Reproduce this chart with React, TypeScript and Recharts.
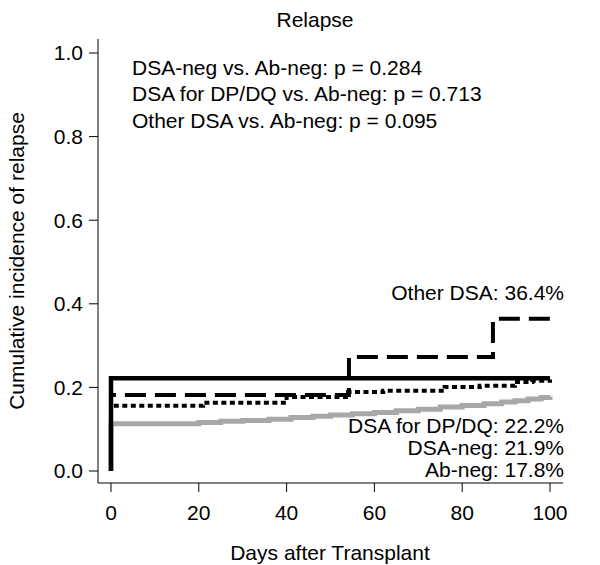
import React from "react";
import { LineChart, Line, XAxis, YAxis } from "recharts";

const xTicks = [0, 20, 40, 60, 80, 100];
const yTicks = [0, 0.2, 0.4, 0.6, 0.8, 1.0];

// Ab-neg (gray)
const abNegDays = [0, 0, 20, 25, 30, 36, 41, 46, 50, 55, 60, 65, 70, 75, 80, 85, 89, 92, 95, 98, 100];
const abNegVals = [0, 0.113, 0.116, 0.119, 0.121, 0.124, 0.128, 0.131, 0.134, 0.137, 0.14, 0.144, 0.148, 0.153, 0.157, 0.161, 0.165, 0.168, 0.172, 0.176, 0.178];

// DSA-neg (dotted)
const dsaNegDays = [0, 0, 21, 40, 54, 62, 76, 84, 92, 96, 100];
const dsaNegVals = [0, 0.156, 0.163, 0.177, 0.189, 0.192, 0.201, 0.204, 0.213, 0.216, 0.219];

// Other DSA (dashed)
const otherDays = [0, 0, 54.2, 87, 100];
const otherVals = [0, 0.182, 0.273, 0.364, 0.364];

// DSA for DP/DQ (solid)
const dpdqDays = [0, 0, 100];
const dpdqVals = [0, 0.222, 0.222];

const pTexts = [
  "DSA-neg vs. Ab-neg: p = 0.284",
  "DSA for DP/DQ vs. Ab-neg: p = 0.713",
  "Other DSA vs. Ab-neg: p = 0.095",
];
const endLabels = ["DSA for DP/DQ: 22.2%", "DSA-neg: 21.9%", "Ab-neg: 17.8%"];
const otherLabel = "Other DSA: 36.4%";

const toRows = (d: number[], v: number[]) => d.map((day, i) => ({ day, v: v[i] }));

const FONT = "'Liberation Sans', Arial, Helvetica, sans-serif";

export default function App() {
  return (
    <div style={{ position: "absolute", left: 0, top: 0, width: 600, height: 565, background: "#fff", fontFamily: FONT }}>
      <LineChart width={600} height={565} margin={{ top: 39, right: 37, bottom: 52, left: 0 }}>
        <XAxis
          type="number"
          dataKey="day"
          domain={[-2.96, 102.96]}
          ticks={xTicks}
          height={30}
          tickSize={9}
          tickMargin={13}
          stroke="#000"
          tick={{ fill: "#000", fontSize: 21, fontFamily: FONT }}
          allowDataOverflow
        />
        <YAxis
          type="number"
          domain={[-0.0287, 1.0335]}
          ticks={yTicks}
          width={98}
          tickSize={9}
          tickMargin={6}
          stroke="#000"
          tickFormatter={(v: number) => v.toFixed(1)}
          tick={{ fill: "#000", fontSize: 21, fontFamily: FONT }}
          allowDataOverflow
        />
        <Line data={toRows(abNegDays, abNegVals)} dataKey="v" type="stepAfter" stroke="#a8a8a8" strokeWidth={5} dot={false} activeDot={false} isAnimationActive={false} />
        <Line data={toRows(dsaNegDays, dsaNegVals)} dataKey="v" type="stepAfter" stroke="#000" strokeWidth={4} strokeDasharray="5 3.5" dot={false} activeDot={false} isAnimationActive={false} />
        <Line data={toRows(otherDays, otherVals)} dataKey="v" type="stepAfter" stroke="#000" strokeWidth={4} strokeDasharray="21 9" dot={false} activeDot={false} isAnimationActive={false} />
        <Line data={toRows(dpdqDays, dpdqVals)} dataKey="v" type="stepAfter" stroke="#000" strokeWidth={4.5} dot={false} activeDot={false} isAnimationActive={false} />
      </LineChart>
      <svg width={600} height={565} style={{ position: "absolute", left: 0, top: 0, pointerEvents: "none" }} fontFamily={FONT} fontSize={21} fill="#000">
        <text x={315} y={27} textAnchor="middle">Relapse</text>
        {pTexts.map((t, i) => (
          <text key={t} x={132} y={74.5 + i * 26.5}>{t}</text>
        ))}
        <text x={564} y={300} textAnchor="end">{otherLabel}</text>
        {endLabels.map((t, i) => (
          <text key={t} x={564} y={433 + i * 22} textAnchor="end">{t}</text>
        ))}
        <text x={330} y={560} textAnchor="middle">Days after Transplant</text>
        <text x={24} y={261} textAnchor="middle" transform="rotate(-90 24 261)">Cumulative incidence of relapse</text>
      </svg>
    </div>
  );
}
